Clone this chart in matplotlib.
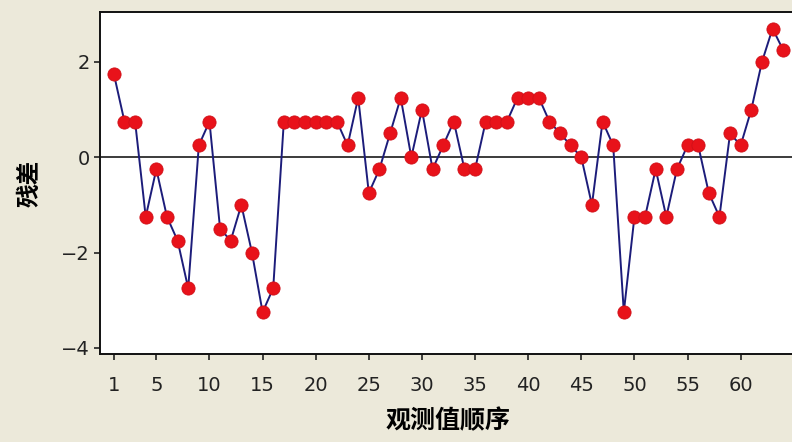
import numpy as np
import matplotlib
matplotlib.use("Agg")
import matplotlib.pyplot as plt

plt.rcParams['font.family'] = ['Noto Sans CJK SC', 'DejaVu Sans']

# residuals in observation order
order = np.arange(1, 65)
resid = [1.75, 0.75, 0.75, -1.25, -0.25, -1.25, -1.75, -2.75, 0.25, 0.75,
         -1.5, -1.75, -1.0, -2.0, -3.25, -2.75, 0.75, 0.75, 0.75, 0.75,
         0.75, 0.75, 0.25, 1.25, -0.75, -0.25, 0.5, 1.25, 0.0, 1.0,
         -0.25, 0.25, 0.75, -0.25, -0.25, 0.75, 0.75, 0.75, 1.25, 1.25,
         1.25, 0.75, 0.5, 0.25, 0.0, -1.0, 0.75, 0.25, -3.25, -1.25,
         -1.25, -0.25, -1.25, -0.25, 0.25, 0.25, -0.75, -1.25, 0.5, 0.25,
         1.0, 2.0, 2.7, 2.25]
xticks = [1, 5, 10, 15, 20, 25, 30, 35, 40, 45, 50, 55, 60]
yticks = [-4, -2, 0, 2]

fig = plt.figure(figsize=(7.92, 4.42), dpi=100)
fig.patch.set_facecolor('#ECE9DA')
ax = fig.add_axes([0.1263, 0.199, 0.880, 0.774])
ax.set_facecolor('white')

ax.axhline(0, color='#1a1a1a', lw=1.2, zorder=1)
ax.plot(order, resid, color='#1c1c7a', lw=1.4, zorder=2)
ax.plot(order, resid, 'o', color='#e8121a', markersize=9.5,
        markeredgecolor='#d01018', markeredgewidth=0.6, zorder=3)

ax.set_xlim(-0.3, 65.3)
ax.set_ylim(-4.13, 3.05)
ax.set_xticks(xticks)
ax.set_yticks(yticks)
ax.set_yticklabels(['\u22124', '\u22122', '0', '2'])
ax.tick_params(axis='both', labelsize=14, colors='#222222', length=4.5,
               width=1.2, direction='out')
ax.tick_params(axis='x', pad=11)
ax.tick_params(axis='y', pad=3)
for lab in ax.get_xticklabels() + ax.get_yticklabels():
    lab.set_fontfamily('DejaVu Sans')
for s in ax.spines.values():
    s.set_color('#111111')
    s.set_linewidth(1.4)

ax.set_ylabel('残差', fontsize=17, fontweight='bold', labelpad=14)
ax.set_xlabel('观测值顺序', fontsize=18, fontweight='bold', labelpad=10)

fig.savefig('out.png', dpi=100, facecolor=fig.get_facecolor())
